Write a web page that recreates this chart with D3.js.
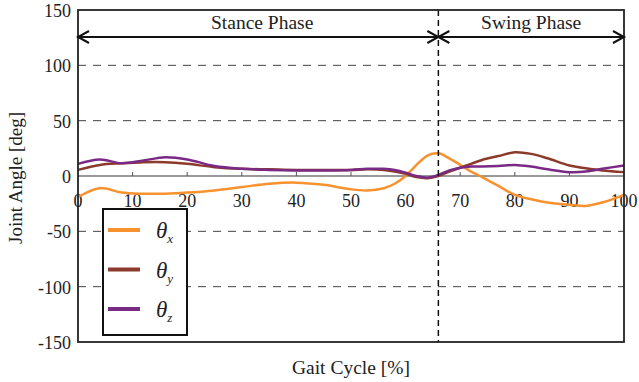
<!DOCTYPE html>
<html>
<head>
<meta charset="utf-8">
<script src="https://cdn.jsdelivr.net/npm/d3@7"></script>
<style>
  body { margin: 0; background: #fff; }
  svg { display: block; }
</style>
</head>
<body>
<div id="vis"></div>
<script>
// gait cycle samples [%]
const cycle = [0, 4, 8, 12, 16, 20, 25, 30, 35, 40, 45, 50, 53, 56, 58, 60, 62, 64, 66, 68, 70, 72, 74, 77, 80, 83, 86, 90, 93, 96, 100];
const thetaX = [-19, -11, -15, -16, -16, -15, -13, -10, -7, -6, -8, -12, -13, -11, -7, 0, 10, 18.5, 20.5, 16, 10, 4, -1, -9, -17, -21, -24, -26, -27, -24, -17];
const thetaY = [5.5, 10, 11.5, 12.5, 12.5, 11, 8, 6.5, 6, 5.5, 5.5, 5.5, 6, 5.5, 4, 2, -1, -2, 0, 4, 7.5, 11, 14.5, 18, 21.5, 20, 16, 9.5, 7, 5, 3.5];
const thetaZ = [11, 15, 11.5, 14, 17, 15, 9, 6.5, 5.5, 5, 5, 5.5, 6.5, 6.5, 5.5, 3, 0, -1.5, 1, 5, 7.5, 8.5, 8.5, 9, 10, 8.5, 6, 3.5, 4, 6.5, 9.5];

const seriesNames = ['x', 'y', 'z'];
const seriesColors = ['#f7922f', '#8c3a2b', '#7a2a85'];
const xTicks = [0, 10, 20, 30, 40, 50, 60, 70, 80, 90, 100];
const yTicks = [-150, -100, -50, 0, 50, 100, 150];
const gridValues = [-100, -50, 50, 100];
const phaseSplit = 66;
const phases = [
  { label: 'Stance Phase', from: 0, to: 66 },
  { label: 'Swing Phase', from: 66, to: 100 }
];

const width = 639;
const height = 382;

const svg = d3.select('#vis').append('svg')
  .attr('width', width)
  .attr('height', height)
  .attr('font-family', 'Liberation Serif')
  .attr('fill', '#222');

const x = d3.scaleLinear().domain([0, 100]).range([78, 624]);
const y = d3.scaleLinear().domain([-150, 150]).range([342, 10]);

// grid
svg.append('g').selectAll('line')
  .data(gridValues)
  .join('line')
  .attr('x1', x(0)).attr('x2', x(100))
  .attr('y1', d => y(d)).attr('y2', d => y(d))
  .attr('stroke', '#444')
  .attr('stroke-width', 1)
  .attr('stroke-dasharray', '8,7');

// x axis line at zero
svg.append('line')
  .attr('x1', x(0)).attr('x2', x(100))
  .attr('y1', y(0)).attr('y2', y(0))
  .attr('stroke', '#777')
  .attr('stroke-width', 1.5);

svg.append('g').selectAll('line')
  .data(xTicks.slice(1, -1))
  .join('line')
  .attr('x1', d => x(d)).attr('x2', d => x(d))
  .attr('y1', y(0)).attr('y2', y(0) - 4)
  .attr('stroke', '#555')
  .attr('stroke-width', 1);

svg.append('g').selectAll('text')
  .data(xTicks)
  .join('text')
  .attr('x', d => x(d))
  .attr('y', y(0) + 31)
  .attr('text-anchor', 'middle')
  .attr('font-size', 18)
  .text(d => d);

svg.append('g').selectAll('text')
  .data(yTicks)
  .join('text')
  .attr('x', 71)
  .attr('y', d => y(d) + 7)
  .attr('text-anchor', 'end')
  .attr('font-size', 18)
  .text(d => d);

// curves
const line = d3.line()
  .x(d => x(d[0]))
  .y(d => y(d[1]))
  .curve(d3.curveCatmullRom.alpha(0.5));

const allSeries = [thetaX, thetaY, thetaZ];
svg.append('g').selectAll('path')
  .data(allSeries)
  .join('path')
  .attr('d', vals => line(cycle.map((c, i) => [c, vals[i]])))
  .attr('fill', 'none')
  .attr('stroke', (d, i) => seriesColors[i])
  .attr('stroke-width', 2.5);

// phase divider
svg.append('line')
  .attr('x1', x(phaseSplit)).attr('x2', x(phaseSplit))
  .attr('y1', y(150)).attr('y2', y(-150))
  .attr('stroke', '#111')
  .attr('stroke-width', 1.5)
  .attr('stroke-dasharray', '6,4');

// frame
svg.append('rect')
  .attr('x', x(0)).attr('y', y(150))
  .attr('width', x(100) - x(0))
  .attr('height', y(-150) - y(150))
  .attr('fill', 'none')
  .attr('stroke', '#222')
  .attr('stroke-width', 1.8);

// phase arrows
const arrowY = 37;
const head = (tipX, dir) => `M${tipX + dir * 11},${arrowY - 6}L${tipX},${arrowY}L${tipX + dir * 11},${arrowY + 6}`;
const phaseG = svg.append('g').selectAll('g')
  .data(phases)
  .join('g');

phaseG.append('line')
  .attr('x1', d => x(d.from)).attr('x2', d => x(d.to))
  .attr('y1', arrowY).attr('y2', arrowY)
  .attr('stroke', '#111')
  .attr('stroke-width', 2);

phaseG.append('path')
  .attr('d', d => head(x(d.from), 1) + head(x(d.to), -1))
  .attr('fill', 'none')
  .attr('stroke', '#111')
  .attr('stroke-width', 2);

phaseG.append('text')
  .attr('x', d => (x(d.from) + x(d.to)) / 2 + (d.from === 0 ? 4 : 0))
  .attr('y', 29)
  .attr('text-anchor', 'middle')
  .attr('font-size', 19.5)
  .text(d => d.label);

// axis titles
svg.append('text')
  .attr('x', 351)
  .attr('y', 374)
  .attr('text-anchor', 'middle')
  .attr('font-size', 19.5)
  .text('Gait Cycle [%]');

svg.append('text')
  .attr('transform', 'translate(22,178) rotate(-90)')
  .attr('text-anchor', 'middle')
  .attr('font-size', 19)
  .text('Joint Angle [deg]');

// legend
const legend = svg.append('g');
legend.append('rect')
  .attr('x', 103).attr('y', 209)
  .attr('width', 84).attr('height', 126)
  .attr('fill', '#fff')
  .attr('stroke', '#111')
  .attr('stroke-width', 2);

const legendRows = legend.selectAll('g')
  .data(seriesNames)
  .join('g')
  .attr('transform', (d, i) => `translate(0,${230 + i * 39.5})`);

legendRows.append('line')
  .attr('x1', 108).attr('x2', 140)
  .attr('y1', 0).attr('y2', 0)
  .attr('stroke', (d, i) => seriesColors[i])
  .attr('stroke-width', 4);

const lt = legendRows.append('text')
  .attr('x', 156)
  .attr('y', 8)
  .attr('font-style', 'italic')
  .attr('font-size', 23);
lt.append('tspan').text('θ');
lt.append('tspan')
  .attr('font-size', 13)
  .attr('dy', 5)
  .text(d => d);
</script>
</body>
</html>
